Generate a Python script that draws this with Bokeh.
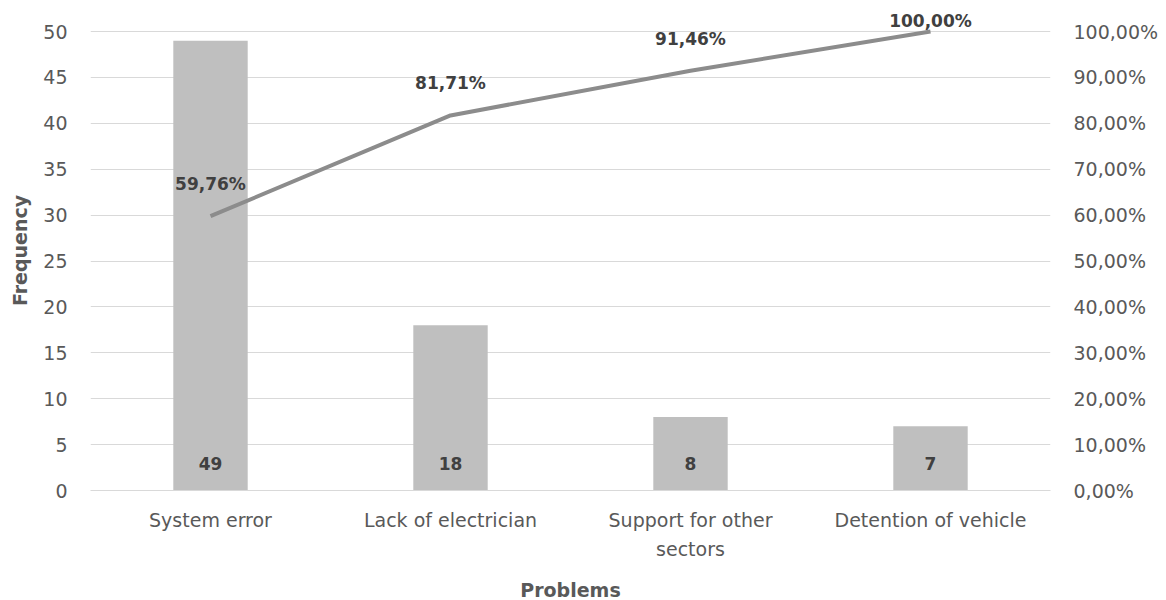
from bokeh.plotting import figure
from bokeh.models import (ColumnDataSource, Range1d, LinearAxis, FixedTicker,
                          CustomJSTickFormatter, LabelSet)
from bokeh.core.properties import value
from bokeh.embed import file_html
from bokeh.resources import INLINE

categories = ["System error", "Lack of electrician", "Support for other\nsectors", "Detention of vehicle"]
frequency = [49, 18, 8, 7]
cumulative_pct = [59.76, 81.71, 91.46, 100.00]
left_ticks = [0, 5, 10, 15, 20, 25, 30, 35, 40, 45, 50]
right_ticks = [0, 10, 20, 30, 40, 50, 60, 70, 80, 90, 100]

FONT = "DejaVu Sans"
TXT = "#595959"
AXIS_H = 459          # pixel height of the 0..50 axis span
HEADROOM = 21         # extra frame space above the top gridline (room for labels)
FRAME_H = AXIS_H + HEADROOM
FREQ_MAX = 50
PCT_MAX = 100

# label offsets above the line points, clamped so they stay inside the chart area (as Excel does)
lab_off = [min(32, (PCT_MAX - v) * AXIS_H / PCT_MAX + 11) for v in cumulative_pct]

src = ColumnDataSource(dict(
    cat=categories,
    freq=frequency,
    freq_label=[str(v) for v in frequency],
    zero=[0] * len(frequency),
    cum=cumulative_pct,
    cum_label=[("%.2f" % v).replace(".", ",") + "%" for v in cumulative_pct],
    lab_off=lab_off,
))

p = figure(x_range=categories, y_range=Range1d(0, FREQ_MAX * FRAME_H / AXIS_H),
           frame_width=960, frame_height=FRAME_H,
           min_border_left=90, min_border_right=108, min_border_top=31 - HEADROOM,
           min_border_bottom=105,
           output_backend="svg", toolbar_location=None,
           background_fill_color="white", border_fill_color="white")
p.outline_line_color = None

p.vbar(x="cat", top="freq", width=0.31, source=src, fill_color="#bfbfbf", line_color=None)

p.extra_y_ranges = {"pct": Range1d(0, PCT_MAX * FRAME_H / AXIS_H)}
p.line(x="cat", y="cum", source=src, y_range_name="pct", line_color="#8c8c8c", line_width=4)

bar_labels = LabelSet(x="cat", y="zero", text="freq_label", source=src,
                      text_align="center", text_baseline="middle", y_offset=27,
                      text_font=value(FONT), text_font_style="bold", text_font_size="17px",
                      text_color="#404040")
p.add_layout(bar_labels)

cum_labels = LabelSet(x="cat", y="cum", text="cum_label", source=src, y_range_name="pct",
                      text_align="center", text_baseline="middle", y_offset="lab_off",
                      text_font=value(FONT), text_font_style="bold", text_font_size="17px",
                      text_color="#404040")
p.add_layout(cum_labels)

# left axis
ax = p.yaxis[0]
ax.ticker = FixedTicker(ticks=left_ticks)
ax.axis_line_color = None
ax.major_tick_line_color = None
ax.minor_tick_line_color = None
ax.major_tick_out = 0
ax.minor_tick_out = 0
ax.major_label_standoff = 23
ax.major_label_text_font = FONT
ax.major_label_text_font_size = "19px"
ax.major_label_text_color = TXT
ax.axis_label = "Frequency"
ax.axis_label_text_font = FONT
ax.axis_label_text_font_style = "bold"
ax.axis_label_text_font_size = "19px"
ax.axis_label_text_color = TXT
ax.axis_label_standoff = 9

# right axis
rax = LinearAxis(y_range_name="pct", ticker=FixedTicker(ticks=right_ticks),
                 formatter=CustomJSTickFormatter(code="return tick.toFixed(2).replace('.', ',') + '%';"))
rax.axis_line_color = None
rax.major_tick_line_color = None
rax.minor_tick_line_color = None
rax.major_tick_out = 0
rax.minor_tick_out = 0
rax.major_label_standoff = 23
rax.major_label_text_font = FONT
rax.major_label_text_font_size = "19px"
rax.major_label_text_color = TXT
p.add_layout(rax, "right")

# bottom axis
xa = p.xaxis[0]
xa.axis_line_color = "#d9d9d9"
xa.major_tick_line_color = None
xa.minor_tick_line_color = None
xa.major_tick_out = 0
xa.minor_tick_out = 0
xa.major_label_standoff = 18
xa.major_label_text_font = FONT
xa.major_label_text_font_size = "19px"
xa.major_label_text_color = TXT
xa.major_label_text_line_height = 1.36
xa.axis_label = "Problems"
xa.axis_label_text_font = FONT
xa.axis_label_text_font_style = "bold"
xa.axis_label_text_font_size = "19px"
xa.axis_label_text_color = TXT
xa.axis_label_standoff = 16

p.xgrid.grid_line_color = None
p.ygrid.grid_line_color = "#d9d9d9"
p.ygrid.grid_line_width = 1

open("out.html", "w").write(file_html(p, INLINE))
